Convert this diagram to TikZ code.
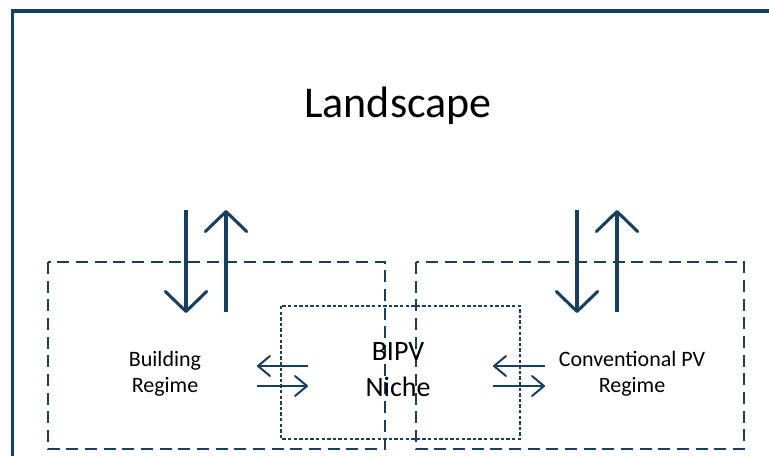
\documentclass[tikz,border=0pt]{standalone}
\usepackage{fontspec}
\setmainfont{Carlito}
\usetikzlibrary{arrows.meta}
\definecolor{navy}{RGB}{23,63,95}
\tikzset{
  regimebox/.style={draw=navy, line width=1.5pt, dash pattern=on 9pt off 5pt},
  nichebox/.style={draw=navy, line width=0.9pt, dash pattern=on 2.6pt off 1.6pt},
  bigarrow/.style={navy, line width=2.3pt, -{Straight Barb[round,length=15pt,width=31pt]}},
  smallarrow/.style={navy, line width=1.5pt, -{Straight Barb[round,length=9pt,width=15pt]}},
}
\begin{document}
\begin{tikzpicture}[x=0.75pt,y=-0.75pt]
\useasboundingbox (0,0) rectangle (769,455);
% landscape frame
\draw [navy, line width=2.6pt] (12.3,470) -- (12.3,11) -- (785,11);
\node (land) at (398,106) {\fontsize{33}{39}\selectfont Landscape};
% regimes and niche
\draw [regimebox] (48,262) coordinate (bnw) rectangle (385,449) coordinate (bse);
\draw [regimebox] (416,262) coordinate (cnw) rectangle (744,449) coordinate (cse);
\draw [nichebox] (281,306) coordinate (nnw) rectangle (520,439) coordinate (nse);
\node [align=center, font=\fontsize{16.5}{19.5}\selectfont] (build) at (165,374) {Building\\Regime};
\node [align=center, font=\fontsize{16.5}{19.5}\selectfont] (conv) at (632,374) {Conventional PV\\Regime};
\node [align=center, font=\fontsize{21}{27}\selectfont] (niche) at (398,370) {BIPV\\Niche};
% landscape <-> regimes
\coordinate (bdown) at (186,210);
\coordinate (bup) at (226,312);
\coordinate (cdown) at (577,210);
\coordinate (cup) at (617,312);
\draw [bigarrow] (bdown) -- ++(0,103);
\draw [bigarrow] (bup) -- ++(0,-102);
\draw [bigarrow] (cdown) -- ++(0,103);
\draw [bigarrow] (cup) -- ++(0,-102);
% niche <-> regimes
\coordinate (bn) at (257,366);
\coordinate (nb) at (308,386);
\coordinate (cn) at (545,366);
\coordinate (nc) at (493,386);
\draw [smallarrow] (bn -| nb) -- (bn);
\draw [smallarrow] (nb -| bn) -- (nb);
\draw [smallarrow] (cn) -- (cn -| nc);
\draw [smallarrow] (nc) -- (nc -| cn);
\end{tikzpicture}
\end{document}
